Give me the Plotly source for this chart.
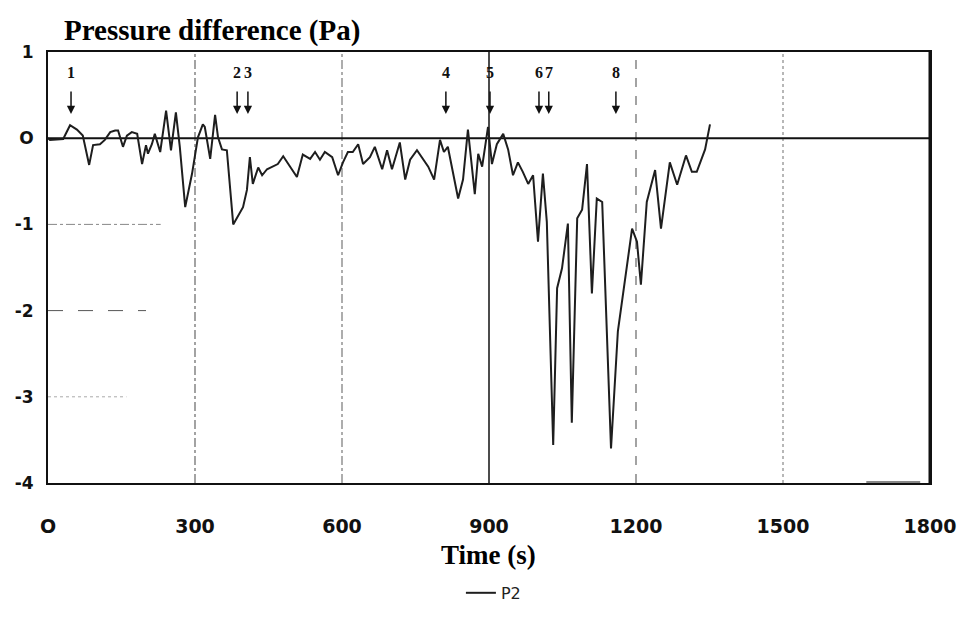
import plotly.graph_objects as go

# ---- data ----
time_s = [0, 4, 31, 45, 59, 71, 84, 92, 106, 116, 127, 137, 143, 153, 161, 171, 182, 192, 200, 204,
          212, 218, 229, 241, 251, 261, 269, 280, 294, 306, 316, 320, 331, 341, 347, 355, 365, 378,
          398, 406, 412, 418, 429, 437, 447, 459, 469, 480, 494, 508, 520, 535, 545, 555, 565, 580,
          592, 602, 612, 622, 633, 643, 657, 667, 682, 692, 702, 718, 729, 739, 753, 763, 776, 788,
          800, 808, 816, 837, 847, 857, 871, 878, 886, 892, 898, 906, 916, 929, 939, 949, 959, 969,
          980, 990, 1000, 1010, 1018, 1031, 1039, 1049, 1061, 1069, 1080, 1090, 1100, 1110, 1120,
          1131, 1149, 1163, 1192, 1202, 1210, 1222, 1239, 1251, 1269, 1284, 1302, 1314, 1324, 1341, 1351]
p2 = [0.0, -0.02, -0.01, 0.15, 0.10, 0.03, -0.31, -0.08, -0.07, -0.02, 0.07, 0.09, 0.09, -0.10, 0.03,
      0.07, 0.05, -0.30, -0.08, -0.18, -0.07, 0.05, -0.16, 0.32, -0.14, 0.30, -0.10, -0.80, -0.41,
      0.01, 0.16, 0.13, -0.24, 0.27, 0.01, -0.13, -0.14, -1.00, -0.80, -0.60, -0.22, -0.53, -0.34,
      -0.43, -0.36, -0.33, -0.30, -0.21, -0.33, -0.45, -0.19, -0.24, -0.16, -0.25, -0.16, -0.22,
      -0.43, -0.28, -0.16, -0.16, -0.07, -0.30, -0.22, -0.10, -0.36, -0.14, -0.36, -0.05, -0.48,
      -0.25, -0.14, -0.22, -0.33, -0.48, -0.02, -0.16, -0.10, -0.70, -0.48, 0.10, -0.65, -0.18,
      -0.33, -0.10, 0.13, -0.30, -0.07, 0.05, -0.13, -0.43, -0.28, -0.39, -0.53, -0.43, -1.20,
      -0.41, -0.97, -3.56, -1.74, -1.51, -0.99, -3.30, -0.93, -0.83, -0.30, -1.80, -0.70, -0.74,
      -3.60, -2.24, -1.05, -1.20, -1.70, -0.74, -0.37, -1.05, -0.28, -0.54, -0.20, -0.39, -0.39,
      -0.13, 0.16]

event_labels = ["1", "2", "3", "4", "5", "6", "7", "8"]
event_times = [47, 386, 408, 812, 902, 1002, 1022, 1159]

x_ticks = [0, 300, 600, 900, 1200, 1500, 1800]
x_ticktext = ["O", "300", "600", "900", "1200", "1500", "1800"]
y_ticks = [1, 0, -1, -2, -3, -4]
y_ticktext = ["1", "O", "-1", "-2", "-3", "-4"]

fig = go.Figure()

# vertical grid lines
vstyles = {300: ("dashdot", "#666", 1.2), 600: ("dashdot", "#777", 1.2), 900: ("solid", "#111", 1.5),
           1200: ("dash", "#666", 1.2), 1500: ("dot", "#888", 1.2)}
for xv, (dsh, col, w) in vstyles.items():
    fig.add_shape(type="line", xref="x", yref="y", x0=xv, x1=xv, y0=-4, y1=1,
                  line=dict(color=col, width=w, dash=dsh), layer="below")

# faint partial horizontal grid remnants
fig.add_shape(type="line", xref="x", yref="y", x0=0, x1=230, y0=-1, y1=-1,
              line=dict(color="#888", width=1, dash="dashdot"), layer="below")
fig.add_shape(type="line", xref="x", yref="y", x0=0, x1=200, y0=-2, y1=-2,
              line=dict(color="#555", width=1, dash="longdash"), layer="below")
fig.add_shape(type="line", xref="x", yref="y", x0=0, x1=160, y0=-3, y1=-3,
              line=dict(color="#aaa", width=1, dash="dot"), layer="below")

# zero line
fig.add_shape(type="line", xref="x", yref="y", x0=0, x1=1800, y0=0, y1=0,
              line=dict(color="#111", width=2), layer="below")

fig.add_trace(go.Scatter(x=time_s, y=p2, mode="lines", name="P2",
                         line=dict(color="#1e1e1e", width=2)))

# event arrows and labels
for lab, t in zip(event_labels, event_times):
    fig.add_annotation(x=t, y=0.28, ax=t, ay=0.56, xref="x", yref="y", axref="x", ayref="y",
                       text="", showarrow=True, arrowhead=2, arrowsize=1.1, arrowwidth=1.5,
                       arrowcolor="#111")
    fig.add_annotation(x=t, y=0.76, xref="x", yref="y", text="<b>" + lab + "</b>", showarrow=False,
                       font=dict(family="Liberation Serif", size=16, color="#111"))

# title-like texts
fig.add_annotation(x=0.016, y=1.05, xref="paper", yref="paper", xanchor="left", yanchor="middle",
                   text="<b>Pressure difference (Pa)</b>", showarrow=False,
                   font=dict(family="Liberation Serif", size=29, color="#000"))
fig.add_annotation(x=0.499, y=-0.168, xref="paper", yref="paper", xanchor="center", yanchor="middle",
                   text="<b>Time (s)</b>", showarrow=False,
                   font=dict(family="Liberation Serif", size=27, color="#000"))

fig.update_layout(
    width=964, height=624,
    margin=dict(l=48, r=34, t=52, b=141, autoexpand=False),
    paper_bgcolor="white", plot_bgcolor="white",
    showlegend=True,
    legend=dict(orientation="h", x=0.505, xanchor="center", y=-0.255, yanchor="middle",
                font=dict(family="DejaVu Sans", size=16, color="#222")),
    xaxis=dict(range=[0, 1800], tickvals=x_ticks, ticktext=x_ticktext, showgrid=False,
               zeroline=False, showline=True, linecolor="#111", linewidth=2, mirror=True,
               ticks="", ticklabelstandoff=25, automargin=False,
               tickfont=dict(family="DejaVu Sans", size=19, color="#111", weight="bold")),
    yaxis=dict(range=[-4, 1], tickvals=y_ticks, ticktext=y_ticktext, showgrid=False,
               zeroline=False, showline=True, linecolor="#111", linewidth=2, mirror=True,
               ticks="", ticklabelstandoff=9, automargin=False,
               tickfont=dict(family="DejaVu Sans", size=17, color="#111", weight="bold")),
)

# thicker right frame edge
fig.add_shape(type="line", xref="x", yref="y", x0=1800, x1=1800, y0=-4, y1=1,
              line=dict(color="#111", width=3))
# grey mark on the bottom edge near the right
fig.add_shape(type="line", xref="x", yref="y", x0=1670, x1=1780, y0=-4, y1=-4,
              line=dict(color="#888", width=4))

fig.write_html("out.html")
